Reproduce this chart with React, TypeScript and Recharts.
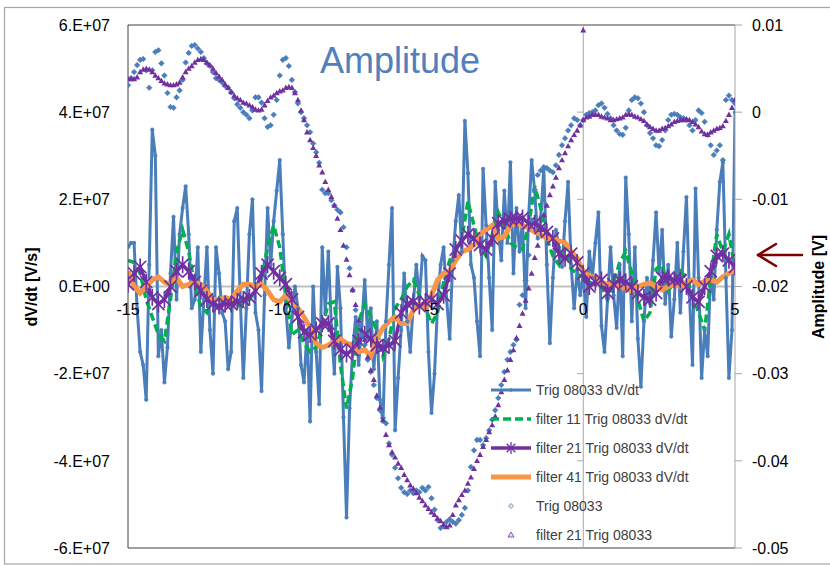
import React from 'react';
import { ComposedChart, Line, Scatter, XAxis, YAxis, ReferenceLine, ReferenceDot } from 'recharts';

const FONT = '"Liberation Sans", Arial, sans-serif';

const seriesNames = [
  'Trig 08033 dV/dt',
  'filter 11 Trig 08033 dV/dt',
  'filter 21 Trig 08033 dV/dt',
  'filter 41 Trig 08033 dV/dt',
  'Trig 08033',
  'filter 21 Trig 08033',
];
const titleText = 'Amplitude';
const leftTitle = 'dV/dt [V/s]';
const rightTitle = 'Amplitude [V]';

const xTicks = [-15, -10, -5, 0, 5];
const leftTicks = [-6e7, -4e7, -2e7, 0, 2e7, 4e7, 6e7];
const rightTicks = [-0.05, -0.04, -0.03, -0.02, -0.01, 0, 0.01];

// time grids (ns)
const time01 = Array.from({ length: 201 }, (_, i) => Math.round((-15 + i * 0.1) * 10) / 10);
const time02 = Array.from({ length: 101 }, (_, i) => Math.round((-15 + i * 0.2) * 10) / 10);

// dV/dt series, in units of 1E7 V/s
const trigDvdt = [
  0.9, 1.0, 1.0, -0.5, -1.5, -1.8, -2.6, 0.5, 3.6, 3.0,
  -1.6, -1.0, -2.2, -1.4, 0.3, 1.6, -0.3, 1.2, 1.8, 2.3,
  1.2, -0.5, -0.3, 0.9, -1.5, -0.3, 0.9, -1.0, -2.0, 0.9,
  0.3, -0.6, -0.8, -1.9, -1.5, 1.5, 1.8, -0.3, -2.1, -0.5,
  1.2, 2.0, -0.6, -1.0, -2.4, -0.2, 1.8, 0.5, 1.5, 2.2,
  2.9, 1.2, -0.5, -1.4, -0.8, 0.0, -0.5, -1.8, -2.2, -1.0,
  -3.1, 0.0, -1.5, -2.7, 0.9, -0.6, 0.8, -0.9, -2.0, 0.45,
  -0.5, -3.0, -5.3, -2.8, -1.5, -0.7, -1.8, -0.9, 0.15, -1.2,
  -0.5, -1.9, -0.8, -2.6, -3.1, -0.8, 0.5, 1.8, -3.3, -2.1,
  -1.0, 0.3, -0.8, -1.5, -0.4, 0.5, -0.3, 0.7, 0.6, -1.5,
  -2.9, -2.0, -0.4, 0.5, 0.9, -0.3, -1.2, 0.6, 1.5, 2.1,
  0.8, 3.8, 2.6, 0.5, 0.2, -0.8, -1.6, 2.7, 1.4, 0.2,
  -1.0, 2.4, 1.3, 0.6, 2.2, 1.0, 2.85, 0.3, 1.8, 0.8,
  1.5, -0.5, 1.6, 2.9, 2.2, 1.1, 1.6, 2.7, 0.5, -1.3,
  0.2, 1.3, 0.9, 0.45, 1.5, 2.4, 0.5, -0.5, 0.4, -0.2,
  0.3, -0.7, 0.8, 0.2, 1.0, 1.7, -0.9, -1.5, -0.3, 0.9,
  -0.2, -0.95, 0.5, -1.6, 2.5, 1.2, -0.8, 0.9, -1.2, -2.3,
  -0.8, 0.2, -0.4, 0.6, 1.7, 0.3, 1.3, -0.4, 0.5, -1.15,
  -0.3, 1.0, -0.6, 0.8, 2.05, -0.2, -1.8, 2.25, 0.2, -2.1,
  -1.0, -1.6, 0.4, -0.3, 1.3, 2.4, 2.85, 0.2, -2.1, -1.0,
  4.0,
];

const filter11Dvdt = [
  0.6, 0.55, 0.3, -0.3, -0.7, -1.1, -1.25, -0.3, 0.8, 1.3,
  0.8, 0.0, -0.45, -0.6, -0.3, -0.25, -0.3, -0.35, -0.5, -0.35,
  -0.3, -0.1, 0.2, 0.9, 1.4, 0.9, -0.2, -1.1, -1.0, -1.3,
  -1.5, -1.4, -0.9, -0.4, -0.35, -1.8, -2.8, -2.1, -0.8, -0.4,
  -0.7, -1.0, -1.6, -1.2, -0.5, -0.3, 0.0, 0.15, -0.2, -0.5,
  -0.85, -0.6, 0.1, 0.6, 0.8, 1.1, 1.95, 1.4, 0.9, 0.7,
  1.2, 1.7, 1.4, 1.0, 0.9, 0.85, 1.4, 2.3, 1.8, 1.1,
  0.7, 0.5, 0.95, 0.4, 0.3, 0.2, 0.1, 0.05, 0.0, -0.3,
  0.1, 0.55, 0.8, 0.3, -0.3, -0.8, -0.6, 0.4, 0.5, -0.1,
  0.1, 0.35, 0.2, -0.2, -0.6, -1.0, 0.2, 1.2, 0.8, 1.2,
  0.4,
];

const filter21Dvdt = [
  0.05, 0.3, 0.45, 0.1, -0.25, -0.4, -0.3, 0.0, 0.35, 0.5,
  0.35, 0.1, -0.1, -0.3, -0.4, -0.45, -0.4, -0.4, -0.35, -0.3,
  -0.25, -0.1, 0.3, 0.5, 0.35, 0.2, 0.05, -0.3, -0.7, -1.05,
  -1.1, -1.0, -0.85, -0.85, -1.25, -1.45, -1.55, -1.45, -1.25, -1.1,
  -1.2, -1.35, -1.4, -1.35, -1.25, -0.6, -0.4, -0.35, -0.45, -0.35,
  -0.3, -0.4, -0.2, 0.3, 0.85, 1.05, 1.2, 1.1, 0.95, 0.85,
  1.1, 1.45, 1.5, 1.55, 1.55, 1.57, 1.45, 1.45, 1.35, 1.25,
  1.1, 0.75, 0.65, 0.75, 0.55, 0.3, 0.0, 0.1, 0.15, -0.15,
  0.05, 0.15, 0.1, 0.0, -0.15, -0.25, -0.3, -0.15, 0.2, 0.2,
  0.15, 0.15, 0.0, -0.25, -0.35, 0.0, 0.35, 0.7, 0.75, 0.6,
  0.45,
];

const filter41Dvdt = [
  0.35, 0.0, -0.15, 0.0, 0.15, 0.22, 0.1, 0.05, 0.2, 0.0,
  0.05, 0.1, 0.05, -0.1, -0.3, -0.3, -0.25, -0.3, -0.1, 0.05,
  0.05, 0.0, 0.05, -0.1, -0.3, -0.35, -0.2, -0.35, -0.5, -0.7,
  -0.95, -1.3, -1.4, -1.35, -1.25, -1.2, -1.3, -1.35, -1.5, -1.45,
  -1.6, -1.2, -0.95, -0.8, -0.7, -0.85, -0.85, -0.55, -0.4, -0.5,
  -0.2, 0.15, 0.3, 0.35, 0.6, 0.8, 0.85, 0.95, 1.2, 1.3,
  1.4, 1.1, 1.15, 1.4, 1.45, 1.4, 1.35, 1.25, 1.2, 1.1,
  1.1, 1.05, 1.0, 0.8, 0.65, 0.33, 0.25, 0.2, 0.1, 0.05,
  0.05, 0.0, -0.05, -0.1, 0.0, 0.05, 0.08, 0.0, -0.08, 0.0,
  0.05, 0.0, 0.1, 0.15, 0.05, 0.12, 0.15, 0.1, 0.22, 0.3,
  0.38,
];

// Amplitude series, V (secondary axis)
const trigAmp = [
  0.0031, 0.0039, 0.0046, 0.0054, 0.0060, 0.0061, 0.0048, 0.0028, 0.0048, 0.0069,
  0.0071, 0.0056, 0.0042, 0.0022, 0.0006, 0.0005, 0.0017, 0.0025, 0.0037, 0.0057,
  0.0068, 0.0076, 0.0077, 0.0073, 0.0069, 0.0062, 0.0056, 0.0053, 0.0046, 0.0039,
  0.0037, 0.0034, 0.0030, 0.0028, 0.0023, 0.0016, 0.0009, 0.0005, 0.0000, -0.0003,
  -0.0007, 0.0002, 0.0017, 0.0017, 0.0011, -0.0007, -0.0017, -0.0015, -0.0003, 0.0014,
  0.0042, 0.0060, 0.0062, 0.0053, 0.0037, 0.0023, 0.0010, 0.0000, -0.0007, -0.0015,
  -0.0023, -0.0036, -0.0046, -0.0058, -0.0089, -0.0093, -0.0093, -0.0101, -0.0107, -0.0112,
  -0.0115, -0.0132, -0.0155, -0.0179, -0.0204, -0.0227, -0.0244, -0.0256, -0.0267, -0.0284,
  -0.0298, -0.0313, -0.0328, -0.0342, -0.0351, -0.0357, -0.0380, -0.0393, -0.0408, -0.0420,
  -0.0431, -0.0436, -0.0438, -0.0434, -0.0437, -0.0434, -0.0436, -0.0431, -0.0434, -0.0430,
  -0.0443, -0.0456, -0.0468, -0.0477, -0.0475, -0.0470, -0.0467, -0.0470, -0.0472, -0.0468,
  -0.0462, -0.0454, -0.0434, -0.0407, -0.0388, -0.0376, -0.0376, -0.0382, -0.0374, -0.0365,
  -0.0353, -0.0342, -0.0328, -0.0313, -0.0298, -0.0284, -0.0275, -0.0267, -0.0261, -0.0221,
  -0.0210, -0.0193, -0.0164, -0.0124, -0.0089, -0.0072, -0.0067, -0.0063, -0.0064, -0.0067,
  -0.0069, -0.0061, -0.0049, -0.0038, -0.0030, -0.0021, -0.0015, -0.0007, -0.0009, -0.0015,
  -0.0009, -0.0003, -0.0001, 0.0000, 0.0002, 0.0008, 0.0010, 0.0005, -0.0002, -0.0007,
  -0.0015, -0.0021, -0.0025, -0.0026, -0.0018, 0.0002, 0.0014, 0.0017, 0.0016, 0.0010,
  0.0000, -0.0015, -0.0024, -0.0030, -0.0038, -0.0039, -0.0032, -0.0021, -0.0009, -0.0003,
  -0.0002, -0.0003, -0.0006, -0.0007, -0.0009, -0.0015, -0.0021, -0.0009, 0.0002, -0.0001,
  -0.0011, -0.0026, -0.0038, -0.0049, -0.0044, -0.0038, -0.0055, 0.0014, 0.0019, 0.0014,
  0.0010,
];

const filter21Amp = [
  0.0038, 0.0038, 0.0038, 0.0040, 0.0046, 0.0049, 0.0050, 0.0049, 0.0046, 0.0042,
  0.0039, 0.0036, 0.0033, 0.0032, 0.0031, 0.0031, 0.0032, 0.0034, 0.0040, 0.0046,
  0.0050, 0.0053, 0.0057, 0.0060, 0.0061, 0.0060, 0.0057, 0.0054, 0.0050, 0.0045,
  0.0041, 0.0037, 0.0032, 0.0028, 0.0023, 0.0019, 0.0016, 0.0014, 0.0011, 0.0010,
  0.0008, 0.0006, 0.0003, 0.0002, 0.0003, 0.0008, 0.0013, 0.0017, 0.0019, 0.0022,
  0.0024, 0.0025, 0.0028, 0.0029, 0.0028, 0.0022, 0.0014, 0.0002, -0.0009, -0.0023,
  -0.0032, -0.0041, -0.0050, -0.0061, -0.0069, -0.0080, -0.0089, -0.0097, -0.0107, -0.0122,
  -0.0135, -0.0153, -0.0169, -0.0187, -0.0204, -0.0221, -0.0239, -0.0250, -0.0261, -0.0281,
  -0.0296, -0.0307, -0.0325, -0.0339, -0.0353, -0.0370, -0.0382, -0.0390, -0.0396, -0.0403,
  -0.0408, -0.0416, -0.0422, -0.0428, -0.0432, -0.0437, -0.0442, -0.0446, -0.0451, -0.0455,
  -0.0459, -0.0462, -0.0466, -0.0469, -0.0473, -0.0476, -0.0474, -0.0462, -0.0451, -0.0445,
  -0.0439, -0.0434, -0.0426, -0.0419, -0.0409, -0.0400, -0.0393, -0.0384, -0.0376, -0.0367,
  -0.0359, -0.0349, -0.0336, -0.0321, -0.0307, -0.0296, -0.0284, -0.0273, -0.0259, -0.0245,
  -0.0231, -0.0216, -0.0202, -0.0185, -0.0167, -0.0153, -0.0135, -0.0118, -0.0107, -0.0095,
  -0.0085, -0.0075, -0.0064, -0.0055, -0.0047, -0.0039, -0.0032, -0.0026, -0.0021, -0.0015,
  -0.0009, -0.0006, -0.0005, -0.0003, -0.0003, -0.0003, -0.0005, -0.0006, -0.0007, -0.0009,
  -0.0009, -0.0008, -0.0007, -0.0006, -0.0003, -0.0002, -0.0003, -0.0005, -0.0006, -0.0008,
  -0.0010, -0.0014, -0.0017, -0.0019, -0.0021, -0.0021, -0.0019, -0.0018, -0.0016, -0.0014,
  -0.0011, -0.0010, -0.0009, -0.0009, -0.0008, -0.0009, -0.0011, -0.0014, -0.0017, -0.0022,
  -0.0025, -0.0026, -0.0023, -0.0021, -0.0019, -0.0018, -0.0016, -0.0010, -0.0003, 0.0005,
  0.0014,
];
// an isolated point of the filtered amplitude series near t = 0
const strayTime = [0.0];
const strayAmp = [0.0094];

const E7 = 1e7;
const dataTrigDvdt = time01.map((x, i) => ({ x, v: trigDvdt[i] * E7 }));
const dataF11 = time02.map((x, i) => ({ x, v: filter11Dvdt[i] * E7 }));
const dataF21 = time02.map((x, i) => ({ x, v: filter21Dvdt[i] * E7 }));
const dataF41 = time02.map((x, i) => ({ x, v: filter41Dvdt[i] * E7 }));
const dataTrigAmp = time01.map((x, i) => ({ x, y: trigAmp[i] }));
const dataF21Amp = time01
  .map((x, i) => ({ x, y: filter21Amp[i] }))
  .concat(strayTime.map((x, i) => ({ x, y: strayAmp[i] })));

const BLUE = '#4A7EBB';
const GREEN = '#00B050';
const PURPLE = '#7030A0';
const ORANGE = '#F79646';

const StarMark = ({ cx, cy, s = 8.5, w = 1.7 }: { cx: number; cy: number; s?: number; w?: number }) => {
  const d = s * 0.72;
  return (
    <g stroke={PURPLE} strokeWidth={w} fill="none">
      <line x1={cx} y1={cy - s} x2={cx} y2={cy + s} />
      <line x1={cx - d} y1={cy - d} x2={cx + d} y2={cy + d} />
      <line x1={cx - d} y1={cy + d} x2={cx + d} y2={cy - d} />
    </g>
  );
};

const starDot = (p: any) => {
  if (p.cx == null || p.cy == null) return <g key={p.index} />;
  return <StarMark key={p.index} cx={p.cx} cy={p.cy} />;
};

const diamondShape = (p: any) => {
  const { cx, cy } = p;
  if (cx == null || cy == null) return <g />;
  const r = 2.8;
  return <polygon points={`${cx},${cy - r} ${cx + r},${cy} ${cx},${cy + r} ${cx - r},${cy}`} fill={BLUE} stroke={BLUE} strokeWidth={0.6} />;
};

const triangleShape = (p: any) => {
  const { cx, cy } = p;
  if (cx == null || cy == null) return <g />;
  return <polygon points={`${cx},${cy - 3.2} ${cx + 3},${cy + 2.2} ${cx - 3},${cy + 2.2}`} fill={PURPLE} stroke="none" />;
};

const leftFmt = (v: number) => (v === 0 ? '0.E+00' : `${Math.round(v / E7)}.E+07`);
const rightFmt = (v: number) => (Math.abs(v) < 1e-9 ? '0' : String(+v.toFixed(2)));

const legendY0 = 390;
const legendDy = 29;

export default function App() {
  const tickStyle = { fontSize: 16, fill: '#000', fontFamily: FONT };
  return (
    <div style={{ position: 'absolute', left: 0, top: 0, width: 830, height: 566, background: '#fff' }}>
      <ComposedChart width={830} height={566} margin={{ top: 25, right: 0, bottom: 18, left: 0 }}>
        <XAxis dataKey="x" type="number" domain={[-15, 5]} ticks={xTicks} hide allowDataOverflow />
        <YAxis
          yAxisId="left"
          width={128}
          type="number"
          domain={[-6e7, 6e7]}
          ticks={leftTicks}
          tickFormatter={leftFmt}
          tick={tickStyle}
          tickLine={false}
          tickSize={8}
          tickMargin={10}
          axisLine={{ stroke: '#404040' }}
          allowDataOverflow
        />
        <YAxis
          yAxisId="right"
          orientation="right"
          width={95}
          type="number"
          domain={[-0.05, 0.01]}
          ticks={rightTicks}
          tickFormatter={rightFmt}
          tick={tickStyle}
          tickLine={{ stroke: '#A6A6A6' }}
          tickSize={7}
          tickMargin={10}
          axisLine={{ stroke: '#A6A6A6' }}
          allowDataOverflow
        />
        <ReferenceLine yAxisId="left" y={6e7} stroke="#404040" ifOverflow="visible" />
        <ReferenceLine yAxisId="left" y={-6e7} stroke="#404040" ifOverflow="visible" />
        <ReferenceLine yAxisId="left" y={0} stroke="#BFBFBF" strokeWidth={2} />
        <ReferenceLine yAxisId="left" x={0} stroke="#A6A6A6" />
        {rightTicks.map((v) => (
          <ReferenceLine
            key={'rt' + v}
            yAxisId="right"
            segment={[{ x: -0.2, y: v }, { x: 0, y: v }]}
            stroke="#A6A6A6"
            ifOverflow="visible"
          />
        ))}
        {xTicks.map((t) => (
          <ReferenceDot
            key={'xt' + t}
            yAxisId="left"
            x={t}
            y={0}
            r={0}
            fill="none"
            stroke="none"
            ifOverflow="visible"
            label={{ value: String(t), position: 'bottom', offset: 17, fontSize: 16, fill: '#000', fontFamily: FONT }}
          />
        ))}
        <Line
          yAxisId="left"
          data={dataTrigDvdt}
          dataKey="v"
          name={seriesNames[0]}
          stroke={BLUE}
          strokeWidth={3}
          dot={{ r: 1.8, fill: BLUE, stroke: BLUE, strokeWidth: 0.5 }}
          isAnimationActive={false}
        />
        <Line
          yAxisId="left"
          data={dataF11}
          dataKey="v"
          name={seriesNames[1]}
          stroke={GREEN}
          strokeWidth={3.5}
          strokeDasharray="8 4"
          dot={false}
          isAnimationActive={false}
        />
        <Line
          yAxisId="left"
          data={dataF21}
          dataKey="v"
          name={seriesNames[2]}
          stroke={PURPLE}
          strokeWidth={3.5}
          dot={starDot}
          isAnimationActive={false}
        />
        <Line
          yAxisId="left"
          data={dataF41}
          dataKey="v"
          name={seriesNames[3]}
          stroke={ORANGE}
          strokeWidth={5}
          dot={false}
          isAnimationActive={false}
        />
        <Scatter
          yAxisId="right"
          data={dataTrigAmp}
          dataKey="y"
          name={seriesNames[4]}
          shape={diamondShape}
          isAnimationActive={false}
        />
        <Scatter
          yAxisId="right"
          data={dataF21Amp}
          dataKey="y"
          name={seriesNames[5]}
          shape={triangleShape}
          isAnimationActive={false}
        />
      </ComposedChart>
      <svg
        width={830}
        height={566}
        style={{ position: 'absolute', left: 0, top: 0, pointerEvents: 'none' }}
        fontFamily={FONT}
      >
        <rect x={4.5} y={7.5} width={830} height={556.5} fill="none" stroke="#A6A6A6" strokeWidth={1.2} />
        <text x={320} y={73} fontSize={36} fill="#4F81BD">{titleText}</text>
        <text
          x={31}
          y={287}
          fontSize={16}
          fontWeight="bold"
          textAnchor="middle"
          dominantBaseline="central"
          transform="rotate(-90 31 287)"
        >
          {leftTitle}
        </text>
        <text
          x={818}
          y={287}
          fontSize={16}
          fontWeight="bold"
          textAnchor="middle"
          dominantBaseline="central"
          transform="rotate(-90 818 287)"
        >
          {rightTitle}
        </text>
        <g stroke="#800000" strokeWidth={2.5} fill="none" strokeLinecap="round">
          <line x1={758} y1={255} x2={802} y2={255} />
          <line x1={758} y1={255} x2={776} y2={244} />
          <line x1={758} y1={255} x2={776} y2={266} />
        </g>
        {seriesNames.map((name, k) => {
          const y = legendY0 + k * legendDy;
          let sample: React.ReactNode = null;
          if (k === 0)
            sample = (
              <g>
                <line x1={491} y1={y} x2={531} y2={y} stroke={BLUE} strokeWidth={3} />
                <circle cx={511} cy={y} r={1.8} fill={BLUE} />
              </g>
            );
          else if (k === 1)
            sample = <line x1={491} y1={y} x2={531} y2={y} stroke={GREEN} strokeWidth={3.5} strokeDasharray="8 4" />;
          else if (k === 2)
            sample = (
              <g>
                <line x1={491} y1={y} x2={531} y2={y} stroke={PURPLE} strokeWidth={3.5} />
                <StarMark cx={511} cy={y} s={6} w={1.3} />
              </g>
            );
          else if (k === 3)
            sample = <line x1={491} y1={y} x2={531} y2={y} stroke={ORANGE} strokeWidth={5} />;
          else if (k === 4)
            sample = (
              <polygon
                points={`511,${y - 2.5} 513.5,${y} 511,${y + 2.5} 508.5,${y}`}
                fill="#DCE6F2"
                stroke={BLUE}
                strokeWidth={0.8}
              />
            );
          else
            sample = (
              <polygon
                points={`511,${y - 3} 514,${y + 2} 508,${y + 2}`}
                fill="#E6DCF0"
                stroke={PURPLE}
                strokeWidth={0.8}
              />
            );
          return (
            <g key={name}>
              {sample}
              <text x={536} y={y} fontSize={14} fill="#404040" dominantBaseline="central">
                {name}
              </text>
            </g>
          );
        })}
      </svg>
    </div>
  );
}
